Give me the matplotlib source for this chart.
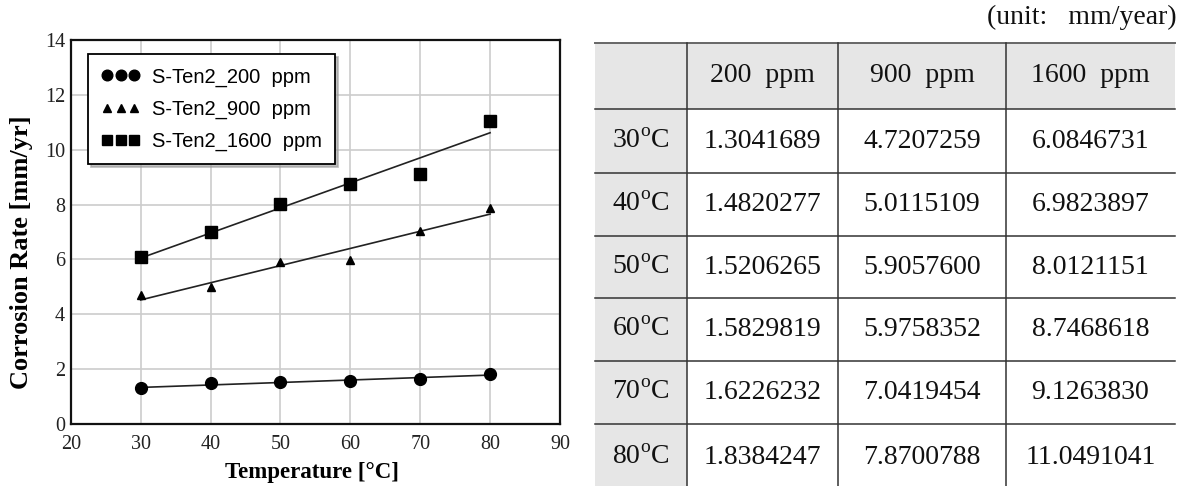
import numpy as np
import matplotlib
matplotlib.use("Agg")
import matplotlib.pyplot as plt
from matplotlib.lines import Line2D
from matplotlib.patches import Rectangle

plt.rcParams['mathtext.fontset'] = 'custom'
plt.rcParams['mathtext.rm'] = 'Liberation Serif'

# data
temps = [30, 40, 50, 60, 70, 80]
rate_200 = [1.3041689, 1.4820277, 1.5206265, 1.5829819, 1.6226232, 1.8384247]
rate_900 = [4.7207259, 5.0115109, 5.9057600, 5.9758352, 7.0419454, 7.8700788]
rate_1600 = [6.0846731, 6.9823897, 8.0121151, 8.7468618, 9.1263830, 11.0491041]
series_labels = ['S-Ten2_200  ppm', 'S-Ten2_900  ppm', 'S-Ten2_1600  ppm']
col_headers = ['200  ppm', '900  ppm', '1600  ppm']
row_headers = [r'%d$^{\mathrm{o}}$C' % t for t in temps]

W, H = 1189, 486
fig = plt.figure(figsize=(W / 100, H / 100), dpi=100)
fig.patch.set_facecolor('white')

# ---- left chart ----
L, R, T, B = 70.7, 560.0, 40.0, 424.0
ax = fig.add_axes([L / W, 1 - B / H, (R - L) / W, (B - T) / H])
ax.set_xlim(20, 90)
ax.set_ylim(0, 14)
ax.set_xticks(range(20, 91, 10))
ax.set_yticks(range(0, 15, 2))
ax.grid(True, color='#cccccc', linewidth=1.2)
ax.set_axisbelow(True)
for s in ax.spines.values():
    s.set_linewidth(1.6)
    s.set_color('#111111')
ax.tick_params(length=0, labelsize=14.5, colors='#222222')
ax.tick_params(axis='x', pad=8)
ax.tick_params(axis='y', pad=4)
for lab in ax.get_xticklabels() + ax.get_yticklabels():
    lab.set_family('Liberation Serif')

markers = ['o', '^', 's']
sizes = [8.5, 5.8, 8]
handles = []
x = np.array(temps)
for ys, m, ms, lab in zip([rate_200, rate_900, rate_1600], markers, sizes, series_labels):
    ys = np.array(ys)
    k, b = np.polyfit(x, ys, 1)
    ax.plot(x, k * x + b, color='#222222', linewidth=1.2, zorder=3)
    ax.plot(x, ys, linestyle='none', marker=m, markersize=ms, color='black', zorder=4)
    handles.append(Line2D([], [], linestyle='none', marker=m, markersize=ms * 0.9, color='black'))

leg = ax.legend(handles, series_labels, loc='upper left', bbox_to_anchor=(0.036, 0.963),
                numpoints=3, handlelength=1.9, handletextpad=0.6, labelspacing=0.65,
                borderpad=0.65, borderaxespad=0, fancybox=False, framealpha=1, edgecolor='black',
                prop={'family': 'Liberation Sans', 'size': 14.5},
                shadow={'color': '0.6', 'alpha': 0.6, 'ox': 2, 'oy': -2})
leg.get_frame().set_linewidth(1.3)

ax.set_ylabel('Corrosion Rate [mm/yr]', family='Liberation Serif', fontweight='bold', fontsize=19)
ax.yaxis.set_label_coords(-0.077, 0.447)
ax.set_xlabel('Temperature [°C]', family='Liberation Serif', fontweight='bold', fontsize=16.5)
ax.xaxis.set_label_coords(0.494, -0.1)

# ---- right table ----
tab = fig.add_axes([0, 0, 1, 1])
tab.set_xlim(0, W)
tab.set_ylim(H, 0)
tab.axis('off')
tab.patch.set_alpha(0)

col_edges = [595, 687, 838, 1006, 1175]
row_edges = [43, 109, 173, 236, 298, 361, 424, 490]
gray = '#e6e6e6'

tab.add_patch(Rectangle((col_edges[0], row_edges[0]), col_edges[-1] - col_edges[0],
                        row_edges[1] - row_edges[0], color=gray, lw=0))
tab.add_patch(Rectangle((col_edges[0], row_edges[1]), col_edges[1] - col_edges[0],
                        row_edges[-1] - row_edges[1], color=gray, lw=0))

tab.plot([col_edges[0], col_edges[-1]], [row_edges[0], row_edges[0]], color='#666666', lw=1.4)
for yy in row_edges[1:-1]:
    tab.plot([col_edges[0], col_edges[-1]], [yy, yy], color='#333333', lw=1.1)
for xx in col_edges[1:-1]:
    tab.plot([xx, xx], [row_edges[0], H], color='#333333', lw=1.1)

fs = 20
def cx(i):
    return (col_edges[i] + col_edges[i + 1]) / 2
def cy(j):
    return (row_edges[j] + row_edges[j + 1]) / 2

for i, h in enumerate(col_headers):
    tab.text(cx(i + 1), cy(0), h, ha='center', va='center', fontsize=fs,
             family='Liberation Serif', color='#111111')
columns = [rate_200, rate_900, rate_1600]
for j, rh in enumerate(row_headers):
    tab.text(cx(0), cy(j + 1), rh, ha='center', va='center', fontsize=fs,
             family='Liberation Serif', color='#111111')
    for i, col in enumerate(columns):
        tab.text(cx(i + 1), cy(j + 1), '%.7f' % col[j], ha='center', va='center',
                 fontsize=fs, family='Liberation Serif', color='#111111')

tab.text(1177, 17, '(unit:   mm/year)', ha='right', va='center', fontsize=fs,
         family='Liberation Serif', color='#111111')

fig.savefig('out.png', dpi=100)
